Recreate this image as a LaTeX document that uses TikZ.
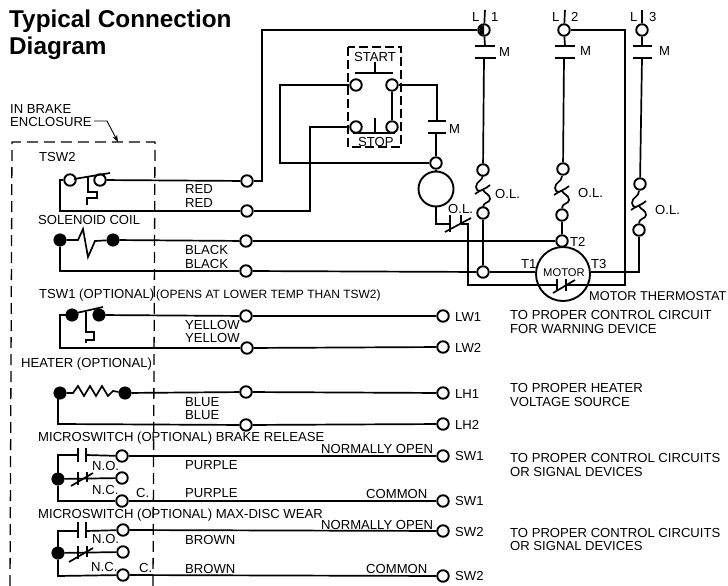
\documentclass[tikz,border=0pt]{standalone}
\usepackage{fontspec}
\setmainfont{Liberation Sans}
\usetikzlibrary{arrows.meta,calc}
\tikzset{
  x=1pt,y=-1pt,
  wire/.style={line width=1.7pt,line join=miter},
  thin wire/.style={line width=1.3pt},
  encl/.style={line width=1.3pt,dash pattern=on 11pt off 6pt},
  term/.style={circle,draw,line width=1.9pt,fill=white,inner sep=0pt,minimum size=11.5pt},
  dot/.style={circle,draw,fill=black,line width=0.5pt,inner sep=0pt,minimum size=12.5pt},
  lab/.style={inner sep=0pt,anchor=base west,font=\fontsize{13.1}{14}\selectfont},
  smalllab/.style={font=\fontsize{12}{14}\selectfont},
  motorlab/.style={font=\fontsize{11.2}{14}\selectfont},
  mtlab/.style={font=\fontsize{12.8}{14}\selectfont},
  titlelab/.style={font=\fontsize{24.3}{26}\selectfont\bfseries},
}
\newcommand\tlab[5][]{\node[lab,#1] (#2) at (#3,#4) {#5};}
\newcommand\olcoil[2]{%
  \begin{scope}[shift={(#1,#2)}]
    \draw[wire] (0,-16) .. controls (0,-10) and (-7,-10) .. (-7,-4) .. controls (-7,-1) and (-5,0) .. (-3,0);
    \draw[wire] (7,-6) .. controls (3,-2) and (-3,-1) .. (-8,3);
    \draw[wire] (0,-1) .. controls (2,3) and (7,3) .. (7,8) .. controls (7,12) and (0,11) .. (0,16);
  \end{scope}}
\begin{document}
\begin{tikzpicture}
\useasboundingbox (0,0) rectangle (728,586);
% enclosure
\coordinate (e1) at (10,586); \coordinate (e2) at (12,142);
\coordinate (e3) at (155,142); \coordinate (e4) at (153,586);
\draw[encl] (e1) -- (e2) -- (e3) -- (e4);
% terminals: TSW2 / solenoid
\node[term] (t2a) at (70,180) {};
\node[term] (t2b) at (100,180) {};
\node[term] (red1) at (247,181) {};
\node[term] (red2) at (247,211) {};
\node[dot] (sa) at (60,240) {};
\node[dot] (sb) at (113,240) {};
\node[term] (bl1) at (246,241) {};
\node[term] (bl2) at (246,271) {};
% TSW1
\node[dot] (t1a) at (72,315) {};
\node[dot] (t1b) at (99,315) {};
\node[term] (ye1) at (246,316) {};
\node[term] (ye2) at (247,348) {};
\node[term] (lw1) at (443,316) {};
\node[term] (lw2) at (443,347) {};
% heater
\node[dot] (ha) at (60,393) {};
\node[dot] (hb) at (125,393) {};
\node[term] (bu1) at (246,392) {};
\node[term] (bu2) at (246,425) {};
\node[term] (lh1) at (443,393) {};
\node[term] (lh2) at (443,424) {};
% microswitch 1
\node[dot] (m1c) at (58,479) {};
\node[term] (m1no) at (122,456) {};
\node[term] (m1nc) at (122,478) {};
\node[term] (m1co) at (122,501) {};
\node[term] (sw1a) at (443,456) {};
\node[term] (sw1b) at (443,501) {};
% microswitch 2
\node[dot] (m2c) at (58,553) {};
\node[term] (m2no) at (123,530) {};
\node[term] (m2nc) at (123,552) {};
\node[term] (m2co) at (123,575) {};
\node[term] (sw2a) at (443,531) {};
\node[term] (sw2b) at (443,576) {};
% control station
\node[term] (st1) at (356,85) {};
\node[term] (st2) at (392,85) {};
\node[term] (sp1) at (356,127) {};
\node[term] (sp2) at (392,127) {};
\node[term] (cm) at (436,163) {};
\node[circle,draw,line width=1.9pt,inner sep=0pt,minimum size=35pt] (coil) at (436,189) {};
% supply
\node[term] (L1) at (484,30) {};
\node[term] (L2) at (564,30) {};
\node[term] (L3) at (642,30) {};
\node[term] (ol1a) at (483,170) {};
\node[term] (ol1b) at (483,213) {};
\node[term] (ol2a) at (563,169) {};
\node[term] (ol2b) at (562,215) {};
\node[term] (ol3a) at (640,184) {};
\node[term] (ol3b) at (639,230) {};
\node[term] (j1) at (483,272) {};
\node[term] (T2n) at (562,241) {};
\node[circle,draw,line width=1.9pt,inner sep=0pt,minimum size=54pt] (motor) at (563,274) {};
% helper coordinates
\coordinate (tl1) at (485,10); \coordinate (tl2) at (565,10); \coordinate (tl3) at (642,10);
\coordinate (c1a) at (485,46); \coordinate (c1b) at (484,58);
\coordinate (c2a) at (565,46); \coordinate (c2b) at (564,58);
\coordinate (c3a) at (642,46); \coordinate (c3b) at (642,58);
\coordinate (cma) at (437,121); \coordinate (cmb) at (436,133);
\coordinate (ola) at (450,224); \coordinate (olb) at (461,224);
\coordinate (tha) at (557,285); \coordinate (thb) at (566,285);
% L1 terminal solid part
\fill (484,35) arc (90:270:5) -- cycle;
% TSW2 & solenoid wiring
\draw[wire] (t2b) -- (red1);
\draw[wire] (red1) -| (262,30) -- (L1);
\draw[wire] (t2a.west) -- (60,180) |- (red2);
\draw[wire] (70,180) ++(4,-1) -- (110,173);
\draw[thin wire] (88,177) -- (88,192) -- (97,192) -- (97,198) -- (87,198) -- (87,205);
\draw[wire] (sa) -- (78,240) -- (83,229) -- (88,257) -- (95,241) -- (sb);
\draw[wire] (sb) -- (bl1);
\draw[wire] (sa) -- (60,271) -- (bl2);
\draw[wire] (bl1) -- (T2n);
\draw[wire] (bl2) -- (j1);
\draw[wire] (j1) -- (motor.west |- j1);
% red to control
\draw[wire] (red2) -- (310,211) |- (sp1);
\draw[wire] (st1) -- (280,85) |- (cm);
\draw[wire] (st2) -- (437,85) -- (cma);
\draw[wire] (cmb) -- (cm);
\draw[wire] (st2) -- (sp2);
\draw[encl,line width=1.2pt,dash pattern=on 9pt off 4pt] (348,47) rectangle (401,147);
\draw[wire] (355,73) -- (393,73);
\draw[wire] (375,62) -- (375,73);
\draw[wire] (353,133) -- (395,133);
\draw[wire] (375,118) -- (375,133);
\draw[wire] (428,121) -- (446,121);
\draw[wire] (428,133) -- (446,133);
\draw[wire] (cm) -- (coil);
\draw[wire] (coil.south) -- (436,224) -- (ola);
\draw[wire] (450,215) -- (450,232);
\draw[wire] (461,215) -- (461,224);
\draw[wire] (445,232) -- (471,218);
\draw[wire] (olb) -- (468,224) -- (468,285) -- (tha);
\draw[wire] (thb) -- (625,285) -- (625,30) -- (L2);
\draw[wire] (557,279) -- (557,291);
\draw[wire] (566,279) -- (566,291);
\draw[wire] (553,293) -- (575,280);
% supply lines
\draw[wire] (tl1) -- (L1);
\draw[wire] (L1) -- (c1a);
\draw[wire] (475,46) -- (495,46);
\draw[wire] (475,58) -- (496,58);
\draw[wire] (c1b) -- (ol1a);
\olcoil{483}{191}
\draw[wire] (ol1b) -- (j1);
\draw[wire] (tl2) -- (L2);
\draw[wire] (L2) -- (c2a);
\draw[wire] (555,46) -- (575,46);
\draw[wire] (555,58) -- (575,58);
\draw[wire] (c2b) -- (ol2a);
\olcoil{562}{192}
\draw[wire] (ol2b) -- (T2n);
\draw[wire] (T2n) -- (motor.north);
\draw[wire] (tl3) -- (L3);
\draw[wire] (L3) -- (c3a);
\draw[wire] (633,46) -- (652,46);
\draw[wire] (633,58) -- (652,58);
\draw[wire] (c3b) -- (ol3a);
\olcoil{639}{207}
\draw[wire] (ol3b) -- (639,272) -- (motor.east |- 639,272);
% TSW1
\draw[wire] (t1b) -- (ye1);
\draw[wire] (ye1) -- (lw1);
\draw[wire] (t1a) -- (60,315) |- (ye2);
\draw[wire] (ye2) -- (lw2);
\draw[wire] (72,314) -- (103,307);
\draw[thin wire] (86,312) -- (86,332) -- (94,332) -- (94,340) -- (86,340) -- (86,343);
% heater
\draw[wire] (ha) -- (73,393) -- (78,386) -- (84,396) -- (90,386) -- (96,396) -- (102,386) -- (108,396) -- (113,391) -- (hb);
\draw[wire] (hb) -- (bu1);
\draw[wire] (bu1) -- (lh1);
\draw[wire] (58,396) -- (58,424) -- (bu2);
\draw[wire] (bu2) -- (lh2);
% microswitch 1
\draw[wire] (m1c) -- (58,455) -- (78,455);
\draw[wire] (78,448) -- (78,462);
\draw[wire] (86,448) -- (86,462);
\draw[wire] (86,455) -- (m1no);
\draw[wire] (m1no) -- (sw1a);
\draw[wire] (m1c) -- (m1nc);
\draw[wire] (78,472) -- (78,485);
\draw[wire] (87,472) -- (87,482);
\draw[wire] (71,486) -- (93,473);
\draw[wire] (m1c) -- (58,501) -- (m1co);
\draw[wire] (m1co) -- (sw1b);
% microswitch 2
\draw[wire] (m2c) -- (58,531) -- (78,531);
\draw[wire] (78,522) -- (78,538);
\draw[wire] (86,522) -- (86,538);
\draw[wire] (86,531) -- (m2no);
\draw[wire] (m2no) -- (sw2a);
\draw[wire] (m2c) -- (m2nc);
\draw[wire] (78,546) -- (78,559);
\draw[wire] (87,546) -- (87,557);
\draw[wire] (69,562) -- (93,548);
\draw[wire] (m2c) -- (58,576) -- (m2co);
\draw[wire] (m2co) -- (sw2b);
% enclosure arrow
\tlab{a1}{10}{113}{IN BRAKE}
\tlab{a2}{10}{126}{ENCLOSURE}
\coordinate (aend) at (118,142);
\draw[line width=0.9pt,-{Stealth[length=7pt,width=5pt]}] (a2.east |- 0,121) ++(2,0) -- (107,121) -- (aend);
% labels
\tlab[titlelab]{tt1}{9}{28}{Typical Connection}
\tlab[titlelab]{tt2}{9}{55}{Diagram}
\tlab{a3}{39}{161}{TSW2}
\tlab{a4}{185}{193}{RED}
\tlab{a5}{185}{207}{RED}
\tlab{a6}{38}{224}{SOLENOID COIL}
\tlab{a7}{185}{254}{BLACK}
\tlab{a8}{185}{268}{BLACK}
\tlab{a9}{39}{298}{TSW1 (OPTIONAL)}
\tlab[smalllab]{a10}{156}{298}{(OPENS AT LOWER TEMP THAN TSW2)}
\tlab{a11}{185}{329}{YELLOW}
\tlab{a12}{185}{342}{YELLOW}
\tlab{a13}{21}{367}{HEATER (OPTIONAL)}
\tlab{a14}{185}{406}{BLUE}
\tlab{a15}{185}{419}{BLUE}
\tlab{a16}{38}{441}{MICROSWITCH (OPTIONAL) BRAKE RELEASE}
\tlab{a17}{321}{453}{NORMALLY OPEN}
\tlab{a18}{185}{469}{PURPLE}
\tlab{a19}{185}{497}{PURPLE}
\tlab{a20}{92}{470}{N.O.}
\tlab{a21}{92}{494}{N.C.}
\tlab{a22}{136}{497}{C.}
\tlab{a23}{366}{498}{COMMON}
\tlab{a24}{38}{518}{MICROSWITCH (OPTIONAL) MAX-DISC WEAR}
\tlab{a25}{321}{529}{NORMALLY OPEN}
\tlab{a26}{185}{544}{BROWN}
\tlab{a27}{185}{573}{BROWN}
\tlab{a28}{92}{543}{N.O.}
\tlab{a29}{91}{571}{N.C.}
\tlab{a30}{139}{572}{C.}
\tlab{a31}{366}{573}{COMMON}
\tlab{a32}{455}{321}{LW1}
\tlab{a33}{455}{352}{LW2}
\tlab{a34}{455}{398}{LH1}
\tlab{a35}{455}{429}{LH2}
\tlab{a36}{455}{460}{SW1}
\tlab{a37}{455}{505}{SW1}
\tlab{a38}{455}{536}{SW2}
\tlab{a39}{455}{580}{SW2}
\tlab{b1}{510}{319}{TO PROPER CONTROL CIRCUIT}
\tlab{b2}{510}{333}{FOR WARNING DEVICE}
\tlab{b3}{510}{392}{TO PROPER HEATER}
\tlab{b4}{510}{406}{VOLTAGE SOURCE}
\tlab{b5}{510}{462}{TO PROPER CONTROL CIRCUITS}
\tlab{b6}{510}{476}{OR SIGNAL DEVICES}
\tlab{b7}{510}{537}{TO PROPER CONTROL CIRCUITS}
\tlab{b8}{510}{550}{OR SIGNAL DEVICES}
\tlab[mtlab]{b9}{589}{300}{MOTOR THERMOSTAT}
\tlab[motorlab]{b10}{543}{276}{MOTOR}
\tlab{b11}{521}{268}{T1}
\tlab{b12}{591}{268}{T3}
\tlab{b13}{570}{246}{T2}
\tlab{b14}{499}{57}{M}
\tlab{b15}{580}{56}{M}
\tlab{b16}{659}{56}{M}
\tlab{b17}{449}{133}{M}
\tlab{b18}{495}{198}{O.L.}
\tlab{b19}{578}{197}{O.L.}
\tlab{b20}{655}{214}{O.L.}
\tlab{b21}{448}{213}{O.L.}
\tlab{b22}{472}{22}{L}
\tlab{b23}{491}{22}{1}
\tlab{b24}{552}{22}{L}
\tlab{b25}{571}{22}{2}
\tlab{b26}{630}{22}{L}
\tlab{b27}{649}{22}{3}
\tlab{b28}{354}{62}{START}
\tlab{b29}{358}{146}{STOP}
\end{tikzpicture}
\end{document}
